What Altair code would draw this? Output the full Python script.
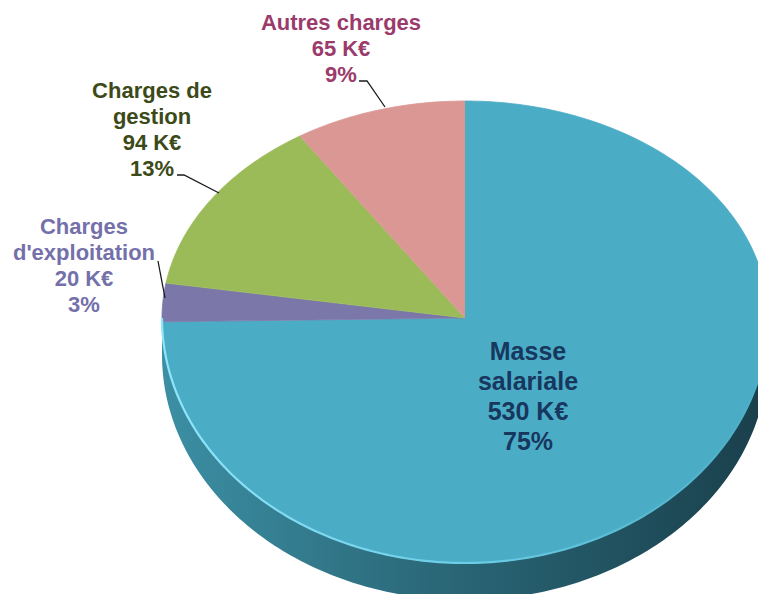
import numpy as np
import pandas as pd
import altair as alt

# ---------------- data ----------------
categories = ["Masse salariale", "Charges d'exploitation", "Charges de gestion", "Autres charges"]
values_keur = [530, 20, 94, 65]
label_lines = [["Masse", "salariale"], ["Charges", "d'exploitation"], ["Charges de", "gestion"], ["Autres charges"]]
unit = "K€"

# ---------------- styles ----------------
slice_colors = ["#4BACC6", "#7B78A9", "#9BBB59", "#DA9794"]
text_colors = ["#17375E", "#7470AA", "#3B4A18", "#9B3B6B"]
FONT = "Liberation Sans"

# ---------------- layout (page pixels) ----------------
W, H, M = 750, 586, 8
CX, CY = 465, 318
RX, RY_TOP, RY_BOT = 303, 217, 245
DEPTH = 37
label_layout = {  # x centre, y of first line centre, line height, font size
    "Masse salariale": (528, 352, 30, 25),
    "Charges d'exploitation": (84, 227, 26, 22),
    "Charges de gestion": (152, 91, 26, 22),
    "Autres charges": (341, 23, 26, 22),
}
leader_layout = {
    "Autres charges": [(359, 81), (367, 81), (385, 107)],
    "Charges de gestion": [(177, 175), (184, 175), (219, 193)],
    "Charges d'exploitation": [(158, 261), (165, 298)],
}


def rim(theta_deg, dy=0.0):
    t = np.radians(np.asarray(theta_deg, dtype=float))
    ry = np.where(np.cos(t) >= 0, RY_TOP, RY_BOT)
    return CX + RX * np.sin(t) - M, CY - ry * np.cos(t) - M + dy


total = float(sum(values_keur))
fractions = [v / total for v in values_keur]
starts = np.concatenate([[0.0], np.cumsum(fractions)[:-1]]) * 360
ends = np.cumsum(fractions) * 360

# slice polygons
rows = []
for cat, a0, a1 in zip(categories, starts, ends):
    rows.append({"cat": cat, "i": 0, "x": CX - M, "y": CY - M})
    n = max(4, int((a1 - a0) / 1.0) + 2)
    th = np.linspace(a0, a1, n)
    xs, ys = rim(th)
    for j, (x, y) in enumerate(zip(xs, ys)):
        rows.append({"cat": cat, "i": j + 1, "x": float(x), "y": float(y)})
slices = pd.DataFrame(rows)

# side (front half of the cylinder)
th = np.linspace(90, 270, 181)
xt, yt = rim(th)
xb, yb = rim(th[::-1], DEPTH)
side = pd.DataFrame({
    "i": np.arange(len(th) * 2),
    "x": np.concatenate([xt, xb]),
    "y": np.concatenate([yt, yb]),
})
rim_edge = pd.DataFrame({"i": np.arange(len(th)), "x": xt, "y": yt})

# labels
lab_rows = []
for cat, lines, v, f, col in zip(categories, label_lines, values_keur, fractions, text_colors):
    x0, y0, lh, fs = label_layout[cat]
    all_lines = list(lines) + [f"{v} {unit}", f"{round(f * 100)}%"]
    for k, t in enumerate(all_lines):
        lab_rows.append({"cat": cat, "text": t, "x": x0 - M, "y": y0 - M + k * lh, "size": fs, "col": col})
labels = pd.DataFrame(lab_rows)

lead_rows = []
for cat, pts in leader_layout.items():
    for k, (x, y) in enumerate(pts):
        lead_rows.append({"cat": cat, "i": k, "x": x - M, "y": y - M})
leaders = pd.DataFrame(lead_rows)

xs = alt.Scale(domain=[0, W], nice=False, zero=False)
ys = alt.Scale(domain=[0, H], nice=False, zero=False, reverse=True)
X = lambda: alt.X("x:Q", scale=xs, axis=None)
Y = lambda: alt.Y("y:Q", scale=ys, axis=None)

side_layer = alt.Chart(side).mark_line(
    fill={"gradient": "linear", "x1": 0, "y1": 0, "x2": 1, "y2": 0,
          "stops": [{"offset": 0, "color": "#3C8FA4"},
                    {"offset": 0.45, "color": "#2A6878"},
                    {"offset": 1, "color": "#1A3F4B"}]},
    strokeWidth=0,
).encode(x=X(), y=Y(), order="i:Q")

slice_layer = alt.Chart(slices).mark_line(filled=True, strokeWidth=0.8).encode(
    x=X(), y=Y(), order="i:Q",
    color=alt.Color("cat:N", scale=alt.Scale(domain=categories, range=slice_colors), legend=None),
    stroke=alt.Stroke("cat:N", scale=alt.Scale(domain=categories, range=slice_colors), legend=None),
    detail="cat:N",
)

rim_layer = alt.Chart(rim_edge).mark_line(
    stroke={"gradient": "linear", "x1": 0, "y1": 0, "x2": 1, "y2": 0,
            "stops": [{"offset": 0, "color": "#8FE6FA"},
                      {"offset": 0.5, "color": "#6CCDE6"},
                      {"offset": 1, "color": "#4BACC6"}]},
    strokeWidth=2.2,
).encode(x=X(), y=Y(), order="i:Q")

leader_layer = alt.Chart(leaders).mark_line(color="#1a1a1a", strokeWidth=1.3).encode(
    x=X(), y=Y(), order="i:Q", detail="cat:N"
)

text_layer = alt.Chart(labels).mark_text(
    font=FONT, fontWeight="bold", align="center", baseline="middle"
).encode(
    x=X(), y=Y(), text="text:N",
    color=alt.Color("col:N", scale=None),
    size=alt.Size("size:Q", scale=None),
)

chart = alt.layer(side_layer, slice_layer, rim_layer, leader_layer, text_layer).resolve_scale(
    color="independent"
).properties(
    width=W, height=H, padding=0, autosize=alt.AutoSizeParams(type="none")
).configure_view(stroke=None)

chart.save("out.html", embed_options={"renderer": "svg", "actions": False})
